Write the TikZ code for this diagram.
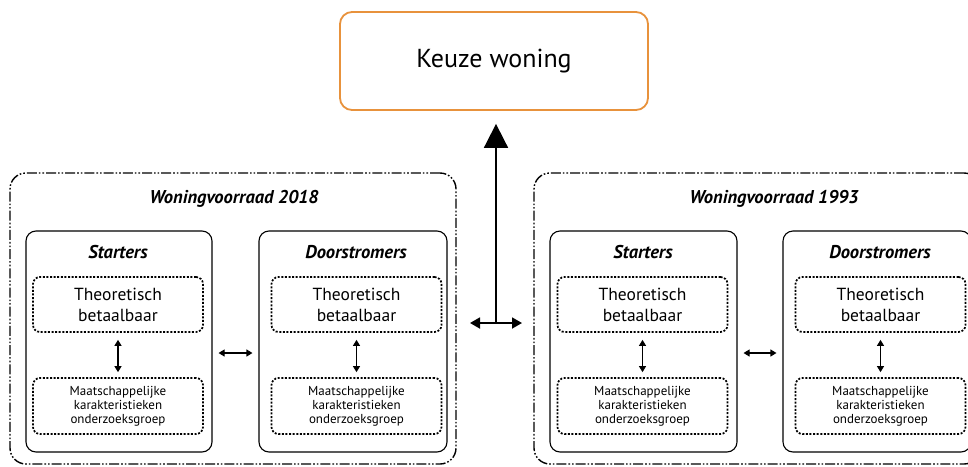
\documentclass[tikz,border=0pt]{standalone}
\usepackage{fontspec}
\setmainfont{PT Sans}
\usetikzlibrary{arrows.meta}
\definecolor{korange}{HTML}{E8923C}
\tikzset{
  outerbox/.style={draw=black, line width=1.4pt, rounded corners=16pt,
    dash pattern=on 10pt off 2pt on 1.6pt off 2pt on 1.6pt off 2pt},
  groupbox/.style={draw=black, line width=1.1pt, rounded corners=10pt, minimum height=221pt},
  dotbox/.style={draw=black, line width=1.7pt, rounded corners=7pt, dash pattern=on 2pt off 1.6pt,
    minimum width=170pt, align=center, inner sep=0pt},
  theobox/.style={dotbox, minimum height=55pt, font=\fontsize{17.5}{21}\selectfont},
  maatbox/.style={dotbox, minimum height=56pt, font=\fontsize{13}{14}\selectfont},
  titletext/.style={font=\fontsize{18.5}{21}\selectfont\bfseries\itshape, inner sep=0pt},
  headtext/.style={font=\fontsize{18.5}{21}\selectfont\bfseries\itshape, inner sep=0pt},
  dblarrow/.style={{Triangle[length=6pt,width=7pt]}-{Triangle[length=6pt,width=7pt]}, line width=1.1pt},
  bigarrow/.style={-{Triangle[length=24pt,width=24pt]}, line width=1.8pt},
  hubarrow/.style={{Triangle[length=10pt,width=11pt]}-{Triangle[length=10pt,width=11pt]}, line width=1.8pt}
}
\begin{document}
\begin{tikzpicture}[x=1pt,y=-1pt]
\clip (0,0) rectangle (968,466);
\fill[white] (0,0) rectangle (968,466);
% top box
\node[draw=korange, line width=1.8pt, rounded corners=12pt, minimum width=308pt, minimum height=98pt,
  font=\fontsize{26}{30}\selectfont] (keuze) at (494,61) {Keuze woning};
% outer containers
\node[outerbox, minimum width=446pt, minimum height=291pt] (L) at (233,318.5) {};
\node[outerbox, minimum width=446pt, minimum height=291pt] (R) at (757,318.5) {};
\node[titletext] (Lt) at (234,199) {Woningvoorraad 2018};
\node[titletext] (Rt) at (774,199) {Woningvoorraad 1993};
% group boxes
\node[groupbox, minimum width=186pt] (LS) at (119,341.5) {};
\node[groupbox, minimum width=188pt] (LD) at (353,341.5) {};
\node[groupbox, minimum width=187pt] (RS) at (643.5,341.5) {};
\node[groupbox, minimum width=188pt] (RD) at (877,341.5) {};
\node[headtext] (LSt) at (118,252) {Starters};
\node[headtext] (LDt) at (356,252) {Doorstromers};
\node[headtext] (RSt) at (643,252) {Starters};
\node[headtext] (RDt) at (880,252) {Doorstromers};
% theoretisch boxes
\node[theobox] (LST) at (118,304.5) {Theoretisch\\betaalbaar};
\node[theobox] (LDT) at (356.5,304.5) {Theoretisch\\betaalbaar};
\node[theobox] (RST) at (642.5,304.5) {Theoretisch\\betaalbaar};
\node[theobox] (RDT) at (880.5,304.5) {Theoretisch\\betaalbaar};
% maatschappelijke boxes
\node[maatbox] (LSM) at (118,406) {Maatschappelijke\\karakteristieken\\onderzoeksgroep};
\node[maatbox] (LDM) at (356.5,406) {Maatschappelijke\\karakteristieken\\onderzoeksgroep};
\node[maatbox] (RSM) at (642.5,406) {Maatschappelijke\\karakteristieken\\onderzoeksgroep};
\node[maatbox] (RDM) at (880.5,406) {Maatschappelijke\\karakteristieken\\onderzoeksgroep};
% vertical double arrows
\foreach \a in {LS,LD,RS,RD}{
  \draw[dblarrow, shorten <=7pt, shorten >=5pt] (\a T.south) -- (\a M.north);
}
% horizontal double arrows between groups
\draw[dblarrow, shorten <=6pt, shorten >=6pt] (LS.east |- 0,353) -- (LD.west |- 0,353);
\draw[dblarrow, shorten <=6pt, shorten >=6pt] (RS.east |- 0,353) -- (RD.west |- 0,353);
% hub arrows
\coordinate (hl) at (470,323);
\coordinate (hr) at (522,323);
\coordinate (hub) at (496,323);
\draw[hubarrow] (hl) -- (hr);
\draw[bigarrow, shorten >=13pt] (hub) -- (hub |- keuze.south);
\end{tikzpicture}
\end{document}
